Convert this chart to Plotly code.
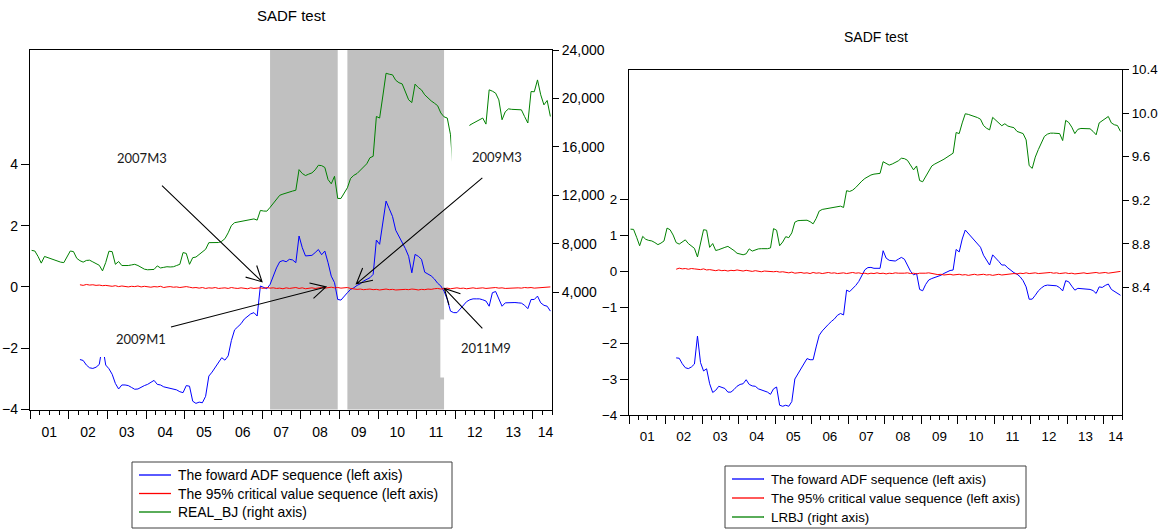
import math
import numpy as np
import plotly.graph_objects as go

# ---------------------------------------------------------------------------
# Monthly sample 2001M1 .. 2014M6 (162 observations)
# ---------------------------------------------------------------------------
FIRST_YEAR = 2001
N_OBS = 162
obs_x = FIRST_YEAR + (np.arange(N_OBS) + 0.5) / 12.0   # centre of each month

year_starts = list(range(2001, 2015))
year_labels = ["01", "02", "03", "04", "05", "06", "07",
               "08", "09", "10", "11", "12", "13", "14"]

# Periods flagged as explosive (shaded on the level panel)
bubble_periods = [("2007M3", "2008M12"), ("2009M3", "2011M9")]

# ---------------------------------------------------------------------------
# Level panel: forward ADF sequence, 95% critical values, REAL_BJ
# (ADF and critical values start in 2002M4)
# ---------------------------------------------------------------------------
adf_level = [None] * 15 + [
    -2.37, -2.40, -2.55, -2.64, -2.66, -2.62, -2.53, -1.90, -2.55, -2.67,
    -2.85, -3.15, -3.33, -3.20, -3.20, -3.22, -3.28, -3.34, -3.33, -3.27,
    -3.22, -3.18, -3.12, -3.05, -3.18, -3.20, -3.26, -3.28, -3.32, -3.34,
    -3.36, -3.42, -3.45, -3.22, -3.24, -3.73, -3.80, -3.76, -3.78, -3.57,
    -2.91, -2.78, -2.62, -2.45, -2.31, -2.39, -2.25, -1.75, -1.40, -1.30,
    -1.20, -1.05, -0.95, -0.88, -0.84, -0.95, 0.03, -0.02, -0.06, 0.08,
    0.35, 0.62, 0.82, 0.86, 0.82, 0.90, 0.88, 0.79, 1.66, 1.28,
    1.01, 1.02, 1.03, 1.12, 1.22, 1.05, 1.17, 0.79, 0.35, 0.14,
    -0.41, -0.43, -0.30, -0.19, -0.08, -0.03, 0.05, 0.10, 0.19, 0.25,
    0.30, 0.41, 1.53, 1.39, 2.10, 2.80, 2.55, 2.30, 1.85, 1.65,
    1.50, 1.25, 1.00, 0.46, 1.06, 1.00, 0.90, 0.48, 0.42, 0.36,
    0.26, 0.12, 0.03, -0.14, -0.41, -0.79, -0.84, -0.84, -0.72, -0.60,
    -0.48, -0.42, -0.39, -0.39, -0.39, -0.42, -0.46, -0.63, -0.19, -0.15,
    -0.41, -0.63, -0.52, -0.51, -0.50, -0.51, -0.52, -0.53, -0.60, -0.71,
    -0.41, -0.41, -0.30, -0.52, -0.60, -0.63, -0.79,
]

cv_level = [None] * 15 + [
    0.07, 0.05, 0.08, 0.06, 0.07, 0.05, 0.06, 0.04, 0.05, 0.03,
    0.02, 0.04, 0.01, 0.03, 0.02, 0.00, 0.02, 0.01, 0.03, 0.00,
    0.02, 0.01, -0.01, 0.01, 0.00, 0.02, -0.02, 0.00, 0.01, -0.01,
    0.00, -0.02, 0.00, 0.01, -0.01, -0.03, -0.02, -0.04, -0.02, -0.05,
    -0.03, -0.04, -0.02, -0.05, -0.04, -0.03, -0.05, -0.02, -0.04, -0.05,
    -0.03, -0.04, -0.06, -0.03, -0.05, -0.04, -0.03, -0.05, -0.02, -0.04,
    -0.03, -0.05, -0.04, -0.06, -0.03, -0.05, -0.04, -0.02, -0.05, -0.03,
    -0.06, -0.04, -0.03, -0.05, -0.04, -0.02, -0.04, -0.03, -0.01, -0.03,
    -0.02, -0.04, -0.03, -0.02, -0.05, -0.07, -0.08, -0.07, -0.09, -0.08,
    -0.07, -0.09, -0.08, -0.10, -0.08, -0.07, -0.09, -0.08, -0.10, -0.09,
    -0.07, -0.08, -0.09, -0.07, -0.08, -0.10, -0.08, -0.09, -0.07, -0.08,
    -0.06, -0.05, -0.07, -0.05, -0.04, -0.06, -0.05, -0.03, -0.05, -0.04,
    -0.06, -0.04, -0.03, -0.05, -0.04, -0.03, -0.05, -0.04, -0.03, -0.02,
    -0.04, -0.03, -0.05, -0.04, -0.03, -0.02, -0.03, -0.04, -0.02, -0.03,
    -0.02, -0.04, -0.03, -0.02, -0.03, -0.01, 0.00,
]

real_bj = [
    7450, 7400, 6950, 6400, 6950, 6850, 6720, 6650, 6530, 6480,
    6440, 6900, 7400, 7350, 6800, 6600, 6480, 6620, 6640, 6500,
    6390, 6220, 5760, 6450, 7380, 7350, 6300, 6530, 6200, 6170,
    6200, 6250, 6300, 6200, 6050, 5900, 5850, 5840, 5880, 6170,
    6000, 6050, 6100, 6080, 6100, 6200, 6300, 7270, 7200, 6300,
    6850, 6900, 7130, 7300, 7540, 8090, 8100, 8090, 8100, 8200,
    8420, 8900, 9500, 9740, 9790, 9830, 9870, 9950, 10010, 10050,
    9950, 10750, 10700, 10690, 11000, 11330, 11650, 12000, 12100, 12200,
    12300, 12350, 12420, 14120, 13800, 13630, 13750, 13850, 14100, 14480,
    14450, 14300, 13300, 12950, 13570, 11740, 11740, 12200, 12620, 13400,
    13650, 13800, 14050, 14270, 14600, 15100, 15220, 18510, 18380, 20200,
    22080, 22000, 21950, 21500, 21300, 21200, 20570, 19890, 19660, 21180,
    20900, 20700, 20300, 20030, 19800, 19610, 19400, 18800, 18480, 18380,
    17000, 13400, 13030, 14470, 15520, 16650, 17800, 17950, 18100, 18250,
    18380, 17880, 20710, 20600, 20440, 19880, 18240, 18900, 19140, 19100,
    19080, 19070, 19060, 18500, 17970, 20570, 20550, 21530, 20300, 19470,
    19830, 18510,
]

# ---------------------------------------------------------------------------
# Log panel: forward ADF sequence, 95% critical values, LRBJ
# ---------------------------------------------------------------------------
adf_log = [None] * 15 + [
    -2.413, -2.423, -2.575, -2.686, -2.711, -2.666, -2.585, -1.806, -2.544, -2.777,
    -2.716, -3.131, -3.374, -3.313, -3.202, -3.222, -3.263, -3.364, -3.364, -3.293,
    -3.202, -3.151, -3.131, -3.020, -3.151, -3.192, -3.202, -3.273, -3.303, -3.334,
    -3.364, -3.425, -3.273, -3.222, -3.728, -3.758, -3.728, -3.758, -3.627, -3.000,
    -2.858, -2.716, -2.595, -2.433, -2.464, -2.464, -2.109, -1.786, -1.664, -1.563,
    -1.482, -1.401, -1.331, -1.229, -1.179, -1.219, -0.531, -0.572, -0.491, -0.400,
    -0.289, -0.147, 0.035, 0.096, 0.101, 0.076, 0.076, 0.076, 0.565, 0.359,
    0.298, 0.288, 0.278, 0.329, 0.379, 0.329, 0.167, -0.005, -0.107, -0.066,
    -0.511, -0.548, -0.370, -0.248, -0.208, -0.177, -0.157, -0.117, -0.066, -0.016,
    0.015, 0.028, 0.600, 0.530, 0.890, 1.140, 1.050, 0.946, 0.844, 0.763,
    0.662, 0.440, 0.288, 0.167, 0.450, 0.369, 0.268, 0.167, 0.167, 0.086,
    0.015, -0.046, -0.086, -0.157, -0.268, -0.440, -0.784, -0.780, -0.673, -0.552,
    -0.471, -0.410, -0.390, -0.400, -0.400, -0.410, -0.461, -0.552, -0.268, -0.299,
    -0.420, -0.531, -0.481, -0.491, -0.501, -0.511, -0.511, -0.542, -0.622, -0.440,
    -0.456, -0.400, -0.360, -0.511, -0.572, -0.622, -0.673,
]

cv_log = [None] * 15 + [
    0.05, 0.08, 0.06, 0.07, 0.05, 0.07, 0.06, 0.05, 0.04, 0.06,
    0.03, 0.04, 0.02, 0.01, 0.03, 0.01, 0.02, 0.00, 0.02, 0.01,
    0.03, 0.01, 0.00, 0.02, 0.01, -0.01, 0.01, 0.00, -0.02, 0.00,
    -0.01, -0.03, -0.02, -0.01, -0.03, -0.02, -0.04, -0.05, -0.03, -0.06,
    -0.05, -0.04, -0.06, -0.05, -0.07, -0.04, -0.06, -0.05, -0.07, -0.06,
    -0.04, -0.06, -0.05, -0.07, -0.06, -0.05, -0.07, -0.06, -0.04, -0.06,
    -0.05, -0.07, -0.06, -0.08, -0.06, -0.07, -0.05, -0.07, -0.06, -0.08,
    -0.06, -0.07, -0.05, -0.06, -0.07, -0.06, -0.05, -0.07, -0.06, -0.08,
    -0.06, -0.07, -0.06, -0.05, -0.07, -0.09, -0.10, -0.09, -0.11, -0.10,
    -0.09, -0.11, -0.10, -0.09, -0.11, -0.10, -0.12, -0.10, -0.09, -0.11,
    -0.10, -0.09, -0.11, -0.10, -0.12, -0.10, -0.09, -0.11, -0.10, -0.08,
    -0.09, -0.07, -0.08, -0.06, -0.07, -0.05, -0.07, -0.06, -0.05, -0.07,
    -0.06, -0.05, -0.06, -0.04, -0.06, -0.05, -0.07, -0.06, -0.05, -0.07,
    -0.06, -0.08, -0.07, -0.06, -0.05, -0.07, -0.06, -0.05, -0.04, -0.06,
    -0.05, -0.04, -0.06, -0.05, -0.03, -0.04, -0.01,
]

lrbj = [
    8.935, 8.933, 8.861, 8.783, 8.869, 8.842, 8.832, 8.827, 8.812, 8.793,
    8.807, 8.827, 8.945, 8.930, 8.881, 8.812, 8.798, 8.822, 8.837, 8.803,
    8.783, 8.759, 8.680, 8.817, 8.930, 8.925, 8.768, 8.803, 8.739, 8.747,
    8.754, 8.768, 8.777, 8.761, 8.739, 8.714, 8.705, 8.700, 8.709, 8.754,
    8.734, 8.744, 8.754, 8.756, 8.754, 8.756, 8.763, 8.940, 8.925, 8.783,
    8.817, 8.866, 8.857, 8.901, 8.999, 9.013, 9.015, 9.016, 9.017, 9.004,
    8.984, 9.033, 9.101, 9.116, 9.121, 9.126, 9.131, 9.136, 9.141, 9.146,
    9.134, 9.288, 9.281, 9.293, 9.317, 9.351, 9.376, 9.400, 9.420, 9.432,
    9.440, 9.445, 9.447, 9.554, 9.538, 9.523, 9.533, 9.545, 9.562, 9.586,
    9.582, 9.567, 9.518, 9.479, 9.515, 9.381, 9.370, 9.420, 9.459, 9.515,
    9.533, 9.545, 9.562, 9.577, 9.594, 9.616, 9.632, 9.822, 9.812, 9.910,
    9.994, 9.988, 9.979, 9.969, 9.959, 9.944, 9.886, 9.861, 9.846, 9.961,
    9.935, 9.915, 9.884, 9.902, 9.881, 9.873, 9.866, 9.832, 9.822, 9.812,
    9.754, 9.518, 9.493, 9.596, 9.665, 9.734, 9.786, 9.807, 9.816, 9.816,
    9.816, 9.812, 9.748, 9.933, 9.914, 9.871, 9.812, 9.851, 9.859, 9.857,
    9.856, 9.856, 9.832, 9.801, 9.910, 9.930, 9.949, 9.969, 9.910, 9.893,
    9.886, 9.832,
]

# ---------------------------------------------------------------------------
# Styling
# ---------------------------------------------------------------------------
W, H = 1165, 529
FONT = "Liberation Sans, Arial, Helvetica, sans-serif"
NOTE_FONT = "Lato, Carlito, Calibri, sans-serif"
BLUE, RED, GREEN = "#0000ff", "#ff0000", "#008000"
SHADE = "#c0c0c0"

X_RANGE = [2001.0, 2014.5]

# plot areas in pixels: (left, right, top, bottom)
LEFT_BOX = (30, 552, 50, 409.5)
RIGHT_BOX = (629, 1122, 69.5, 415)


def xdom(box):
    return [box[0] / W, box[1] / W]


def ydom(box):
    return [1 - box[3] / H, 1 - box[2] / H]


def px_x(v):
    return v / W


def px_y(v):
    return 1 - v / H


def month_pos(label):
    y, m = label.split("M")
    return FIRST_YEAR + (int(y) - FIRST_YEAR) + (int(m) - 0.5) / 12.0


quarter_ticks = [FIRST_YEAR + q / 4.0 for q in range(0, 55)]
label_pos = [y + 0.5 for y in year_starts[:-1]] + [2014.33]

fig = go.Figure()

adf_name = "The foward ADF sequence (left axis)"
cv_name = "The 95% critical value sequence (left axis)"

panels = [
    dict(xa="x", xlab="x3", yl="y", yr="y2",
         adf=adf_level, cv=cv_level, level=real_bj, level_name="REAL_BJ (right axis)",
         font_size=14, title_y=15, title_size=15, label_len=10,
         legend_box=(132, 452, 462, 528), legend_rows=(475, 493.5, 512)),
    dict(xa="x2", xlab="x4", yl="y3", yr="y4",
         adf=adf_log, cv=cv_log, level=lrbj, level_name="LRBJ (right axis)",
         font_size=13.4, title_y=37, title_size=14, label_len=9,
         legend_box=(725, 1026, 466, 528), legend_rows=(479, 498, 517)),
]

for p in panels:
    fig.add_trace(go.Scatter(x=obs_x, y=p["adf"], mode="lines", name=adf_name,
                             line=dict(color=BLUE, width=1),
                             xaxis=p["xa"], yaxis=p["yl"], showlegend=False))
    fig.add_trace(go.Scatter(x=obs_x, y=p["cv"], mode="lines", name=cv_name,
                             line=dict(color=RED, width=1),
                             xaxis=p["xa"], yaxis=p["yl"], showlegend=False))
    fig.add_trace(go.Scatter(x=obs_x, y=p["level"], mode="lines", name=p["level_name"],
                             line=dict(color=GREEN, width=1),
                             xaxis=p["xa"], yaxis=p["yr"], showlegend=False))
    # empty carrier trace so the year-label axis is drawn
    fig.add_trace(go.Scatter(x=X_RANGE, y=[None, None], mode="lines",
                             xaxis=p["xlab"], yaxis=p["yl"], showlegend=False,
                             hoverinfo="skip"))


def axis_font(size):
    return dict(family=FONT, size=size, color="black")


def tick_xaxis(box, anchor):
    return dict(domain=xdom(box), anchor=anchor, range=X_RANGE, automargin=False,
                showgrid=False, zeroline=False,
                showline=True, linecolor="black", linewidth=1.3, mirror=True,
                tickmode="array", tickvals=year_starts, showticklabels=False,
                ticks="outside", ticklen=8, tickwidth=1, tickcolor="black",
                minor=dict(tickmode="array", tickvals=quarter_ticks, ticks="outside",
                           ticklen=4, tickwidth=1, tickcolor="black", showgrid=False))


def label_xaxis(box, anchor, over, size, tlen):
    return dict(domain=xdom(box), anchor=anchor, overlaying=over, range=X_RANGE,
                automargin=False, showgrid=False, zeroline=False, showline=False,
                tickmode="array", tickvals=label_pos, ticktext=year_labels,
                ticks="outside", ticklen=tlen, tickcolor="rgba(0,0,0,0)",
                tickfont=axis_font(size))


def left_yaxis(box, anchor, rng, vals, size):
    return dict(domain=ydom(box), anchor=anchor, range=rng, automargin=False,
                showgrid=False, zeroline=False,
                showline=True, linecolor="black", linewidth=1.3, mirror=True,
                tickmode="array", tickvals=vals,
                ticks="outside", ticklen=8, tickwidth=1, tickcolor="black",
                tickfont=axis_font(size))


def right_yaxis(box, anchor, over, rng, vals, fmt, size):
    return dict(domain=ydom(box), anchor=anchor, overlaying=over, side="right",
                range=rng, automargin=False, showgrid=False, zeroline=False,
                showline=False, tickmode="array", tickvals=vals, tickformat=fmt,
                ticks="outside", ticklen=6, tickwidth=1, tickcolor="black",
                tickfont=axis_font(size))


lp, rp = panels
layout_axes = dict(
    xaxis=tick_xaxis(LEFT_BOX, "y"),
    xaxis3=label_xaxis(LEFT_BOX, "y", "x", lp["font_size"], lp["label_len"]),
    yaxis=left_yaxis(LEFT_BOX, "x", [-4, 7.73], [-4, -2, 0, 2, 4], lp["font_size"]),
    yaxis2=right_yaxis(LEFT_BOX, "x", "y", [-5690, 24000],
                       [4000, 8000, 12000, 16000, 20000, 24000], ",d", lp["font_size"]),
    xaxis2=tick_xaxis(RIGHT_BOX, "y3"),
    xaxis4=label_xaxis(RIGHT_BOX, "y3", "x2", rp["font_size"], rp["label_len"]),
    yaxis3=left_yaxis(RIGHT_BOX, "x2", [-4, 5.6], [-4, -3, -2, -1, 0, 1, 2],
                      rp["font_size"]),
    yaxis4=right_yaxis(RIGHT_BOX, "x2", "y3", [7.23, 10.4],
                       [8.4, 8.8, 9.2, 9.6, 10.0, 10.4], ".1f", rp["font_size"]),
)

# ---------------------------------------------------------------------------
# Shapes: shaded explosive periods, label boxes and arrows
# ---------------------------------------------------------------------------
shapes = []
for start, end in bubble_periods:
    shapes.append(dict(type="rect", xref="x", yref="y domain",
                       x0=month_pos(start), x1=month_pos(end), y0=0, y1=1,
                       fillcolor=SHADE, line=dict(width=0), layer="below"))

# date-stamp notes: (text, tip x, tip y, tail offset px, label offset px, box w, box h)
# offsets are screen pixels relative to the arrow tip (y grows downwards)
notes = [
    ("2007M3", 2007.0, 0.17, (-100, -96), (-120, -124), 92, 56),
    ("2009M1", 2008.655, 0.0, (-155, 40), (-185, 52), 84, 36),
    ("2009M3", 2009.44, 0.10, (126, -106), (141, -127), 92, 62),
    ("2011M9", 2011.716, -0.05, (38, 40), (42, 60), 92, 58),
]

ARM_LEN = 17.0
ARM_ANGLE = math.radians(28)

annotations = []
for text, tx, ty, tail, lab, bw, bh in notes:
    # white text box that masks whatever lies beneath the note
    shapes.append(dict(type="rect", xref="x", yref="y",
                       xsizemode="pixel", ysizemode="pixel",
                       xanchor=tx, yanchor=ty,
                       x0=lab[0] - bw / 2, x1=lab[0] + bw / 2,
                       y0=-(lab[1] - bh / 2), y1=-(lab[1] + bh / 2),
                       fillcolor="white", line=dict(width=0), layer="above"))
    annotations.append(dict(text=text, xref="x", yref="y", x=tx, y=ty,
                            xshift=lab[0], yshift=-lab[1], showarrow=False,
                            font=dict(family=NOTE_FONT, size=13, color="#1a1a1a"),
                            xanchor="center", yanchor="middle"))

for text, tx, ty, tail, lab, bw, bh in notes:
    px, py = tail[0], -tail[1]                  # pixel offsets, y upward
    length = math.hypot(px, py)
    ux, uy = px / length, py / length
    arms = []
    for sgn in (1, -1):
        c, s = math.cos(sgn * ARM_ANGLE), math.sin(sgn * ARM_ANGLE)
        arms.append((ARM_LEN * (ux * c - uy * s), ARM_LEN * (ux * s + uy * c)))
    path = (f"M{px:.1f},{py:.1f} L0,0 "
            f"M{arms[0][0]:.1f},{arms[0][1]:.1f} L0,0 L{arms[1][0]:.1f},{arms[1][1]:.1f}")
    shapes.append(dict(type="path", xref="x", yref="y",
                       xsizemode="pixel", ysizemode="pixel",
                       xanchor=tx, yanchor=ty, path=path,
                       line=dict(color="black", width=1.1), layer="above"))

# panel titles
for p, box in zip(panels, (LEFT_BOX, RIGHT_BOX)):
    annotations.append(dict(text="SADF test", xref="paper", yref="paper",
                            x=(box[0] + box[1]) / 2 / W, y=px_y(p["title_y"]),
                            showarrow=False, xanchor="center", yanchor="middle",
                            font=dict(family=FONT, size=p["title_size"], color="black")))

# ---------------------------------------------------------------------------
# Legend boxes (one per panel)
# ---------------------------------------------------------------------------
for p in panels:
    l, r, t, b = p["legend_box"]
    shapes.append(dict(type="rect", xref="paper", yref="paper",
                       x0=px_x(l), x1=px_x(r), y0=px_y(b), y1=px_y(t),
                       fillcolor="white", line=dict(color="#404040", width=1),
                       layer="above"))
    entries = [(adf_name, BLUE), (cv_name, RED), (p["level_name"], GREEN)]
    for (name, color), row in zip(entries, p["legend_rows"]):
        shapes.append(dict(type="line", xref="paper", yref="paper",
                           x0=px_x(l + 7), x1=px_x(l + 39), y0=px_y(row), y1=px_y(row),
                           line=dict(color=color, width=1.3), layer="above"))
        annotations.append(dict(text=name, xref="paper", yref="paper",
                                x=px_x(l + 44), y=px_y(row), showarrow=False,
                                xanchor="left", yanchor="middle",
                                font=dict(family=FONT, size=p["font_size"] - 0.1,
                                          color="black")))

fig.update_layout(
    width=W, height=H,
    margin=dict(l=0, r=0, t=0, b=0, autoexpand=False),
    paper_bgcolor="white", plot_bgcolor="white",
    showlegend=False,
    shapes=shapes,
    annotations=annotations,
    **layout_axes,
)

fig.write_html("out.html")
